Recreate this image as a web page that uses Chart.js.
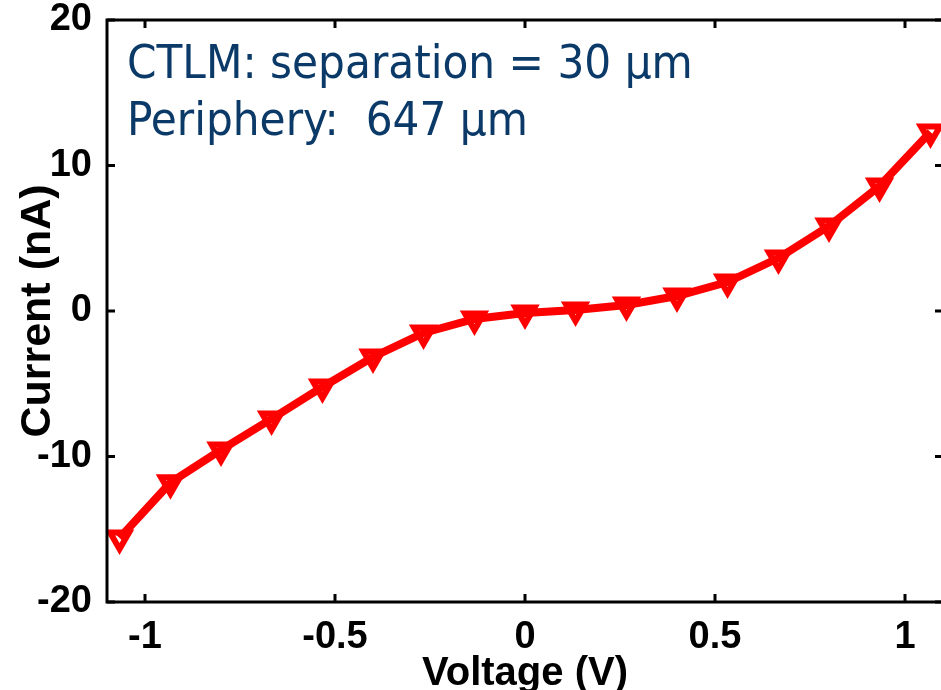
<!DOCTYPE html>
<html>
<head>
<meta charset="utf-8">
<script src="https://cdn.jsdelivr.net/npm/chart.js@4.4.0/dist/chart.umd.min.js"></script>
<style>
html,body{margin:0;padding:0;background:#fff;overflow:hidden;}
#wrap{position:relative;width:946px;height:690px;}
</style>
</head>
<body>
<div id="wrap"><canvas id="myCanvas"></canvas></div>
<script>
// I-V sweep of the CTLM structure
var voltage = [-1.067, -0.933, -0.8, -0.667, -0.533, -0.4, -0.267, -0.133, 0, 0.133, 0.267, 0.4, 0.533, 0.667, 0.8, 0.933, 1.067];
var current = [-15.6, -11.8, -9.55, -7.42, -5.22, -3.16, -1.51, -0.55, -0.14, 0.07, 0.41, 1.03, 1.99, 3.64, 5.84, 8.59, 12.3];
var xTicks = [-1, -0.5, 0, 0.5, 1];
var yTicks = [-20, -10, 0, 10, 20];
var noteLines = ["CTLM: separation = 30 \u03bcm", "Periphery:  647 \u03bcm"];

var points = [];
for (var i = 0; i < voltage.length; i++) {
  points.push({x: voltage[i], y: current[i]});
}

// small lineHeight keeps the tick labels from pushing the plot box down
var tickFont = {family: "'Liberation Sans', Arial, sans-serif", size: 38, weight: "bold", lineHeight: 0.65};
var xTitleFont = {family: "'Liberation Sans', Arial, sans-serif", size: 40, weight: "bold", lineHeight: 1};
var yTitleFont = {family: "'Liberation Sans', Arial, sans-serif", size: 43, weight: "bold", lineHeight: 1};

// box around the plot with inward tick marks on all four sides
var framePlugin = {
  id: "frame",
  afterDraw: function(chart) {
    var ctx = chart.ctx, a = chart.chartArea;
    var xs = chart.scales.x, ys = chart.scales.y;
    var len = 8;
    ctx.save();
    ctx.strokeStyle = "#000";
    ctx.lineWidth = 3;
    ctx.strokeRect(a.left, a.top, a.right - a.left, a.bottom - a.top);
    ctx.beginPath();
    xTicks.forEach(function(v) {
      var px = xs.getPixelForValue(v);
      ctx.moveTo(px, a.bottom); ctx.lineTo(px, a.bottom - len);
      ctx.moveTo(px, a.top); ctx.lineTo(px, a.top + len);
    });
    yTicks.forEach(function(v) {
      var py = ys.getPixelForValue(v);
      ctx.moveTo(a.left, py); ctx.lineTo(a.left + len, py);
      ctx.moveTo(a.right, py); ctx.lineTo(a.right - len, py);
    });
    ctx.stroke();
    ctx.restore();
  }
};

// two-line note in the upper left corner
var notePlugin = {
  id: "note",
  afterDraw: function(chart) {
    var ctx = chart.ctx, a = chart.chartArea;
    ctx.save();
    ctx.font = "47px 'DejaVu Sans', sans-serif";
    ctx.fontStretch = "condensed";
    ctx.fillStyle = "#0b3a68";
    ctx.textAlign = "left";
    ctx.textBaseline = "alphabetic";
    ctx.fillText(noteLines[0], a.left + 20, a.top + 58);
    ctx.fillText(noteLines[1], a.left + 20, a.top + 115);
    ctx.restore();
  }
};

var myChart = document.getElementById("myCanvas").getContext("2d");
var chart = new Chart(myChart, {
  type: "line",
  data: {
    datasets: [{
      label: "I-V",
      data: points,
      borderColor: "#ff0000",
      borderWidth: 8,
      backgroundColor: "transparent",
      pointStyle: "triangle",
      rotation: 180,
      pointRadius: 11,
      pointBorderWidth: 6,
      pointBorderColor: "#ff0000",
      pointBackgroundColor: "transparent",
      tension: 0
    }]
  },
  options: {
    responsive: true,
    maintainAspectRatio: false,
    animation: false,
    layout: {autoPadding: false, padding: {top: 20, right: 3, left: 0, bottom: 0}},
    plugins: {legend: {display: false}, tooltip: {enabled: false}},
    scales: {
      x: {
        type: "linear",
        min: -1.1,
        max: 1.1,
        afterBuildTicks: function(s) { s.ticks = xTicks.map(function(v) { return {value: v}; }); },
        afterFit: function(s) { s.height = 88; },
        grid: {display: false},
        border: {display: false},
        ticks: {font: tickFont, color: "#000", padding: 15, maxRotation: 0,
          callback: function(v) { return String(v); }},
        title: {display: true, text: "Voltage (V)", color: "#000", font: xTitleFont, padding: {top: 0, bottom: -4}}
      },
      y: {
        type: "linear",
        min: -20,
        max: 20,
        afterBuildTicks: function(s) { s.ticks = yTicks.map(function(v) { return {value: v}; }); },
        afterFit: function(s) { s.width = 107; },
        grid: {display: false},
        border: {display: false},
        ticks: {font: tickFont, color: "#000", padding: 7,
          callback: function(v) { return String(v); }},
        title: {display: true, text: "Current (nA)", color: "#000", font: yTitleFont, padding: {top: 17, bottom: 0}}
      }
    }
  },
  plugins: [framePlugin, notePlugin]
});
</script>
</body>
</html>
